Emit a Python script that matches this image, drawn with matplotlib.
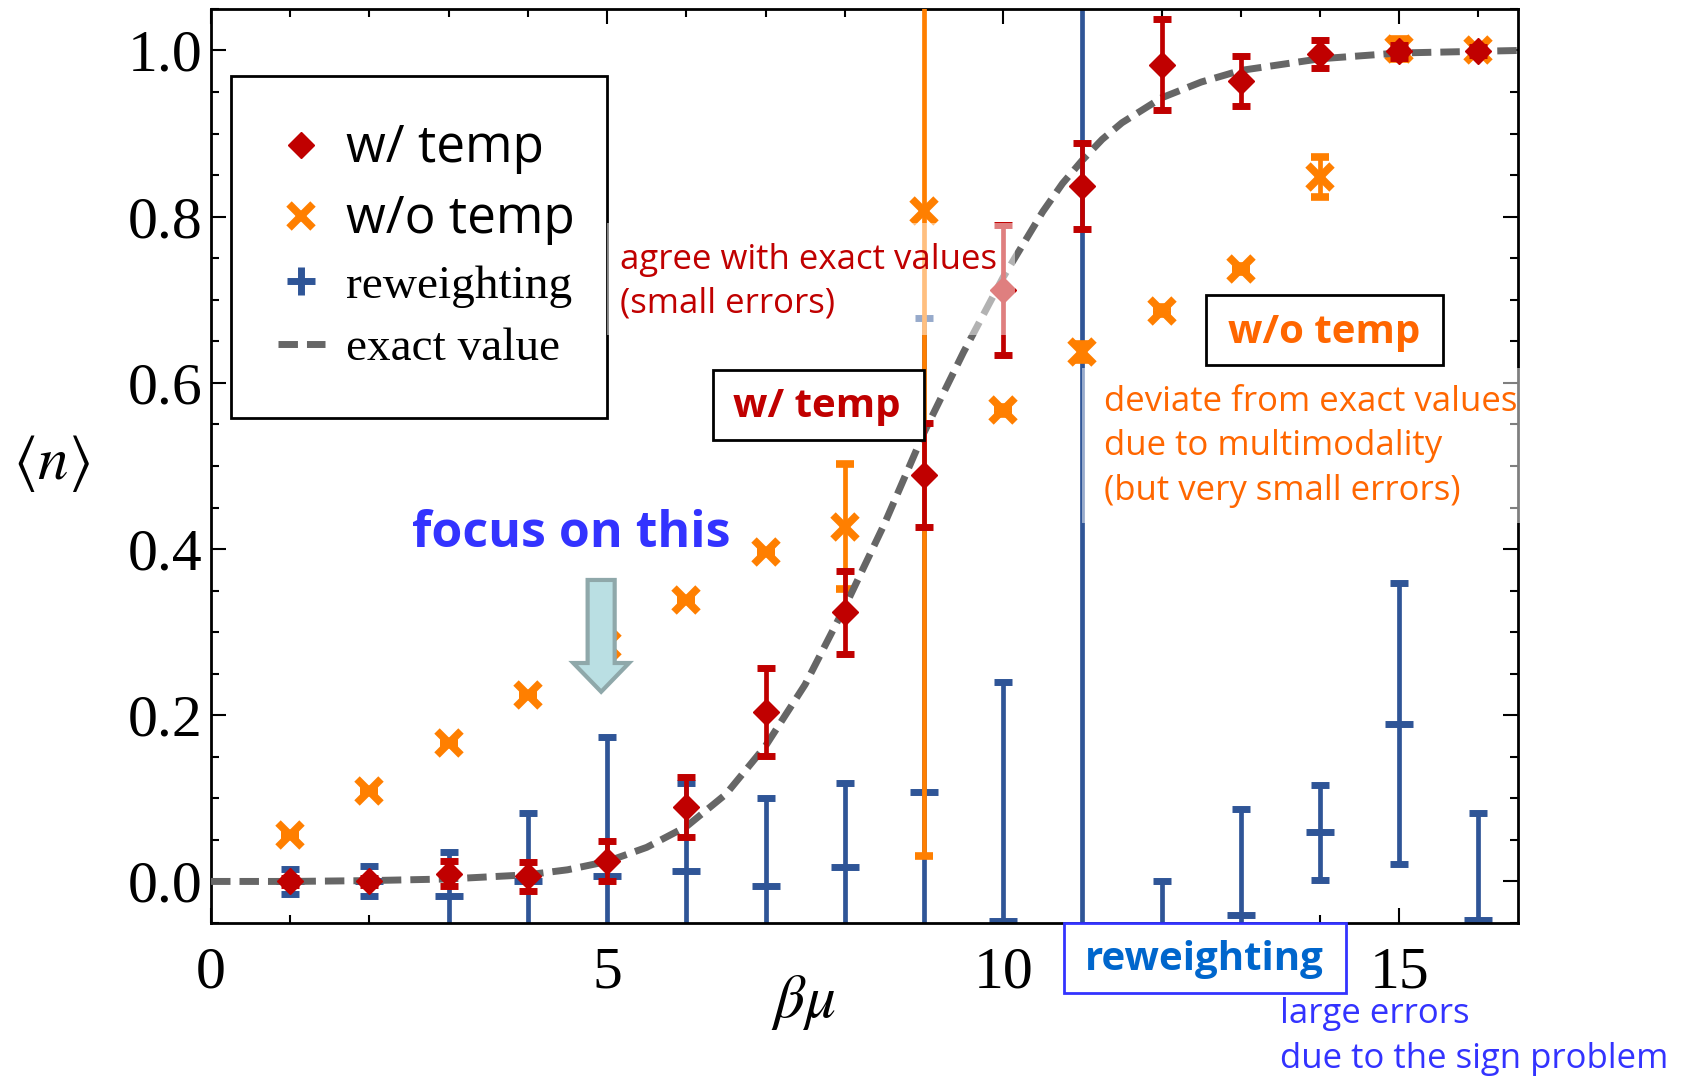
import numpy as np
import matplotlib.pyplot as plt
from matplotlib.lines import Line2D
from matplotlib.patches import Rectangle, FancyArrow
from matplotlib.ticker import FormatStrFormatter

plt.rcParams['font.family'] = 'Liberation Serif'
plt.rcParams['mathtext.fontset'] = 'stix'

# data
beta_mu = np.arange(1, 17)
n_temp = [0.0, 0.0, 0.009, 0.006, 0.025, 0.090, 0.204, 0.324,
          0.489, 0.712, 0.837, 0.983, 0.963, 0.996, 0.999, 0.999]
err_temp = [0.004, 0.004, 0.015, 0.017, 0.024, 0.036, 0.053, 0.050,
            0.063, 0.078, 0.052, 0.055, 0.030, 0.017, 0.008, 0.005]
n_notemp = [0.056, 0.109, 0.167, 0.224, 0.284, 0.339, 0.397, 0.427,
            0.807, 0.567, 0.637, 0.687, 0.737, 0.848, 1.002, 1.0]
err_notemp = [0.0, 0.0, 0.0, 0.0, 0.0, 0.0, 0.0, 0.075,
              0.776, 0.004, 0.010, 0.004, 0.004, 0.024, 0.012, 0.004]
n_rw = [0.0, 0.0, -0.018, 0.0, 0.007, 0.013, -0.005, 0.017,
        0.108, -0.048, -0.3, -0.07, -0.04, 0.059, 0.19, -0.047]
err_rw = [0.015, 0.018, 0.053, 0.082, 0.167, 0.106, 0.106, 0.102,
          0.570, 0.288, 1.5, 0.07, 0.127, 0.057, 0.169, 0.129]

x_exact = [0, 1, 2, 3, 4, 4.5, 5, 5.5, 6, 6.5, 7, 7.5, 8, 8.5, 9, 9.5,
           10, 10.5, 10.75, 11, 11.25, 11.5, 12, 12.5, 13, 14, 15, 16, 16.5]
n_exact = [0, 0, 0.001, 0.003, 0.008, 0.014, 0.024, 0.041, 0.066, 0.105,
           0.163, 0.237, 0.33, 0.43, 0.54, 0.637, 0.727, 0.806, 0.84, 0.868,
           0.893, 0.913, 0.943, 0.962, 0.976, 0.99, 0.997, 0.999, 1.0]

red = '#C00000'
orange = '#FF7F00'
blue = '#2F5597'
grey = '#666666'
dash = (0, (2.8, 1.3))

fig = plt.figure(figsize=(16.91, 10.77), dpi=100)
ax = fig.add_axes([0.1248, 0.1430, 0.7729, 0.8487])

ax.errorbar(beta_mu, n_rw, yerr=err_rw, fmt='_', color=blue, ms=20, mew=5,
            elinewidth=3.4, capsize=6.5, capthick=5, zorder=2)
ax.errorbar(beta_mu, n_notemp, yerr=err_notemp, fmt='x', color=orange, ms=17,
            mew=5.5, elinewidth=3.4, capsize=6.5, capthick=5, zorder=3)
ax.plot(x_exact, n_exact, color=grey, lw=5, ls=dash, zorder=4)
ax.errorbar(beta_mu, n_temp, yerr=err_temp, fmt='D', color=red, ms=13,
            elinewidth=3.4, capsize=6.5, capthick=5, zorder=5)

ax.set_xlim(0, 16.5)
ax.set_ylim(-0.05, 1.05)
ax.set_xticks([0, 5, 10, 15])
ax.set_xticks(np.arange(0, 17, 1), minor=True)
ax.set_yticks(np.arange(0, 1.01, 0.2))
ax.set_yticks(np.arange(-0.05, 1.06, 0.05), minor=True)
ax.yaxis.set_major_formatter(FormatStrFormatter('%.1f'))
ax.tick_params(which='both', direction='in', top=True, right=True, width=1.5)
ax.tick_params(which='major', length=11, labelsize=43)
ax.tick_params(which='minor', length=6)
ax.tick_params(axis='x', pad=17)
ax.tick_params(axis='y', pad=6)
for s in ax.spines.values():
    s.set_linewidth(2)

handles = [Line2D([], [], marker='D', color=red, ls='none', ms=13),
           Line2D([], [], marker='x', color=orange, ls='none', ms=17, mew=5.5),
           Line2D([], [], marker='+', color=blue, ls='none', ms=20, mew=5),
           Line2D([], [], color=grey, lw=5, ls=dash)]
labels = ['w/ temp', 'w/o temp', 'reweighting', 'exact value']
leg = ax.legend(handles, labels, loc='upper left',
                bbox_to_anchor=(0.0149, 0.555, 0.288, 0.372), mode='expand',
                borderaxespad=0, fancybox=False, edgecolor='black', framealpha=1,
                handlelength=1.0, handletextpad=0.45, labelspacing=0.42,
                borderpad=1.0, fontsize=34)
leg.get_frame().set_linewidth(2)
for t in leg.get_texts()[:2]:
    t.set_fontfamily('Open Sans')
    t.set_fontsize(37)

fig.text(48 / 1568, 1 - 430 / 999, r'$\langle n\rangle$', fontsize=44,
         ha='center', va='center')
fig.text(745 / 1568, 1 - 930 / 999, r'$\beta\mu$', fontsize=44,
         ha='center', va='center')

# semi-transparent white boxes behind the notes
fig.add_artist(Rectangle((0.359, 0.6887), 0.241, 0.104, transform=fig.transFigure,
                         facecolor='white', alpha=0.5, edgecolor='none', zorder=10))
fig.add_artist(Rectangle((0.6397, 0.5145), 0.2628, 0.1441, transform=fig.transFigure,
                         facecolor='white', alpha=0.5, edgecolor='none', zorder=10))

sans = 'Open Sans'
fig.text(575 / 1568, 1 - 225 / 999, 'agree with exact values\n(small errors)',
         color=red, fontsize=25, family=sans, va='top', ha='left',
         linespacing=1.4, zorder=11)
fig.text(1024 / 1568, 1 - 357 / 999,
         'deviate from exact values\ndue to multimodality\n(but very small errors)',
         color='#FF6600', fontsize=25, family=sans, va='top', ha='left',
         linespacing=1.4, zorder=11)
fig.text(1187 / 1568, 1 - 925 / 999, 'large errors\ndue to the sign problem',
         color='#3333FF', fontsize=25, family=sans, va='top', ha='left',
         linespacing=1.4, zorder=11)

# boxed labels
fig.add_artist(Rectangle((0.4216, 0.5916), 0.125, 0.0651, transform=fig.transFigure,
                         facecolor='white', edgecolor='black', lw=2, zorder=11))
fig.text(757 / 1568, 1 - 377 / 999, 'w/ temp', color=red, fontsize=29,
         family=sans, weight='bold', ha='center', va='center', zorder=12)
fig.add_artist(Rectangle((0.713, 0.6607), 0.1403, 0.0651, transform=fig.transFigure,
                         facecolor='white', edgecolor='black', lw=2, zorder=11))
fig.text(1228 / 1568, 1 - 308 / 999, 'w/o temp', color='#FF6600', fontsize=29,
         family=sans, weight='bold', ha='center', va='center', zorder=12)
fig.add_artist(Rectangle((0.6295, 0.0781), 0.1665, 0.0651, transform=fig.transFigure,
                         facecolor='white', edgecolor='#3333FF', lw=2, zorder=11))
fig.text(1117 / 1568, 1 - 890 / 999, 'reweighting', color='#0066CC', fontsize=29,
         family=sans, weight='bold', ha='center', va='center', zorder=12)

fig.text(530 / 1568, 1 - 495 / 999, 'focus on this', color='#3333FF', fontsize=36,
         family=sans, weight='bold', ha='center', va='center', zorder=12)
fig.add_artist(FancyArrow(0.3555, 0.4615, 0, -0.1038, width=0.016,
                          head_width=0.033, head_length=0.0267,
                          length_includes_head=True, transform=fig.transFigure,
                          facecolor='#BADFE3', edgecolor='#8FA8AA', lw=3, zorder=12))

fig.savefig('out.png', dpi=100)
